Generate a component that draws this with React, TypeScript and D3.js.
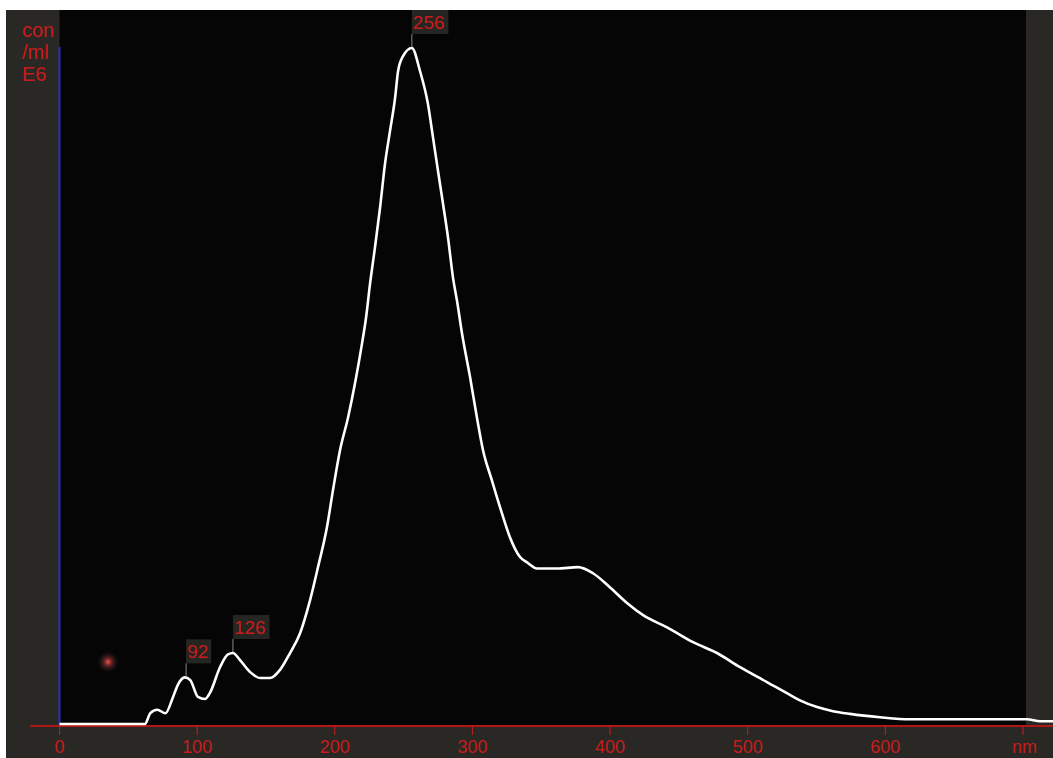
import React from "react";
import * as d3 from "d3";

// particle size (nm) and concentration (relative, E6 con/ml)
const sizeNm = [
  0, 62, 66, 71, 77, 82.5, 86, 91, 95, 100.6, 105.7, 109.3, 116.6, 122.4, 126, 131, 138.4, 145.7,
  153, 160.2, 167.5, 174.7, 182, 187.8, 194.3, 198.7, 203.8, 209.6, 214.7, 219.8, 222.7, 225.6,
  229.2, 232.9, 236.5, 240.1, 243.8, 246, 249.6, 256, 261.9, 267.7, 271.4, 275, 278.6, 282.3,
  285.9, 288.8, 292.4, 298.3, 303.3, 307.7, 314.2, 320, 327.3, 334.6, 339.7, 346.9, 361.4, 376.7,
  387.6, 400, 412.3, 424, 441.4, 460.3, 477.7, 494.4, 514, 530.7, 538, 550.4, 562, 574.3, 596.1,
  617.9, 702.9, 712.4, 722,
];
const concentration = [
  0, 0, 1.6, 2.1, 1.6, 4.0, 5.8, 6.9, 6.5, 4.0, 3.7, 4.6, 8.4, 10.3, 10.5, 9.5, 7.7, 6.8, 6.8,
  8.0, 10.5, 13.4, 18.3, 23.2, 29.1, 34.6, 40.5, 45.3, 50.4, 56.3, 60.1, 65.1, 70.5, 76.4, 82.9,
  87.7, 92.6, 96.6, 98.8, 100, 96.6, 91.7, 86.7, 81.8, 77.0, 71.9, 66.0, 62.6, 57.8, 51.3, 45.3,
  40.5, 36.0, 32.1, 27.6, 24.7, 23.9, 23.0, 23.0, 23.2, 22.3, 20.2, 17.9, 16.1, 14.3, 12.1, 10.5,
  8.4, 6.2, 4.3, 3.5, 2.5, 1.9, 1.5, 1.0, 0.7, 0.7, 0.4, 0.4,
];
const peakLabels = [92, 126, 256];
const xTicks = [0, 100, 200, 300, 400, 500, 600];
const unitLines = ["con", "/ml", "E6"];

const W = 1053;
const H = 758;
const RED = "#c81c1c";
const FONT = "'Liberation Sans', Arial, sans-serif";

export default function App() {
  const x = d3.scaleLinear().domain([0, 700]).range([59.5, 1023]);
  const y = d3.scaleLinear().domain([0, 100]).range([724, 48]);
  const pts = sizeNm.map((s, i) => [s, concentration[i]] as [number, number]);
  const line = d3
    .line<[number, number]>()
    .x((d) => x(d[0]))
    .y((d) => y(d[1]))
    .curve(d3.curveMonotoneX);

  const nearest = (nm: number) => {
    const i = d3.leastIndex(sizeNm, (a, b) => Math.abs(a - nm) - Math.abs(b - nm)) ?? 0;
    return concentration[i];
  };

  return (
    <div style={{ position: "fixed", left: 0, top: 0 }}>
      <svg width={W} height={H} style={{ display: "block", background: "#fff" }}>
        <defs>
          <radialGradient id="spot">
            <stop offset="0%" stopColor="#ff5050" stopOpacity={1} />
            <stop offset="35%" stopColor="#a03838" stopOpacity={0.6} />
            <stop offset="100%" stopColor="#202020" stopOpacity={0} />
          </radialGradient>
        </defs>
        <rect x={6} y={10} width={W - 6} height={H - 10} fill="#2a2824" />
        <rect x={x(0)} y={10} width={1026 - x(0)} height={715} fill="#050505" />
        <circle cx={108} cy={662} r={11} fill="url(#spot)" />

        {/* y axis */}
        <line x1={x(0)} x2={x(0)} y1={47} y2={725} stroke="#2a2cc0" strokeWidth={2} />
        {unitLines.map((t, i) => (
          <text key={t} x={22} y={37 + i * 22} fill={RED} fontSize={20} fontFamily={FONT}>
            {t}
          </text>
        ))}

        {/* x axis */}
        <line x1={30} x2={W} y1={726} y2={726} stroke="#b01616" strokeWidth={2} />
        {[...xTicks, 700].map((t) => (
          <line key={t} x1={x(t)} x2={x(t)} y1={726} y2={735} stroke={RED} strokeWidth={1} />
        ))}
        {xTicks.map((t) => (
          <text
            key={t}
            x={x(t)}
            y={753}
            textAnchor="middle"
            fill={RED}
            fontSize={18}
            fontFamily={FONT}
          >
            {t}
          </text>
        ))}
        <text x={1012} y={753} fill={RED} fontSize={18} fontFamily={FONT}>
          nm
        </text>

        {/* trace */}
        <path d={line(pts) ?? ""} fill="none" stroke="#fff" strokeWidth={2.6} strokeLinejoin="round" />

        {/* peak markers */}
        {peakLabels.map((p) => {
          const px = x(p);
          const py = y(nearest(p));
          const bw = String(p).length * 11.5 + 2;
          const by = py - 38;
          return (
            <g key={p}>
              <line x1={px} x2={px} y1={by + 24} y2={py - 1} stroke="#888" strokeWidth={1} />
              <rect x={px} y={by} width={bw} height={24} fill="#2c2c28" opacity={0.85} />
              <text x={px + 1} y={by + 19} fill={RED} fontSize={19} fontFamily={FONT}>
                {p}
              </text>
            </g>
          );
        })}
      </svg>
    </div>
  );
}
